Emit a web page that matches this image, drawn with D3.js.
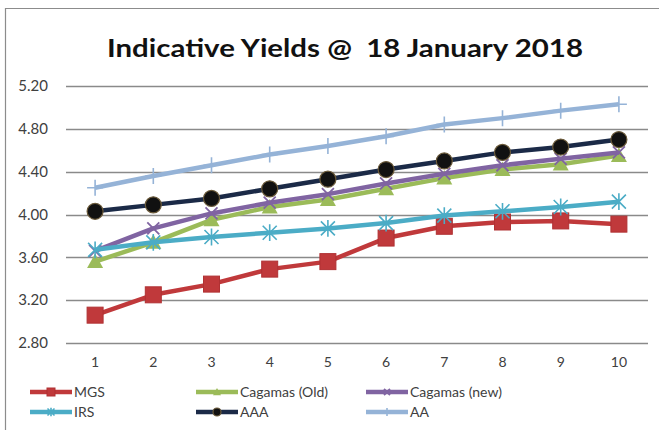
<!DOCTYPE html>
<html>
<head>
<meta charset="utf-8">
<script src="https://cdn.jsdelivr.net/npm/d3@7"></script>
<style>
  html, body { margin: 0; padding: 0; background: #fff; }
  svg { display: block; }
</style>
</head>
<body>
<svg id="chart" width="659" height="430"></svg>
<script>
// Tenors (years) along the x axis
const tenors = [1, 2, 3, 4, 5, 6, 7, 8, 9, 10];
const yTicks = [2.8, 3.2, 3.6, 4.0, 4.4, 4.8, 5.2];

// Yield curves (%)
const mgs         = [3.06, 3.25, 3.35, 3.49, 3.56, 3.78, 3.89, 3.93, 3.94, 3.91];
const cagamasOld  = [3.56, 3.74, 3.95, 4.07, 4.14, 4.24, 4.34, 4.42, 4.47, 4.55];
const cagamasNew  = [3.66, 3.87, 4.01, 4.11, 4.19, 4.29, 4.38, 4.46, 4.52, 4.58];
const irs         = [3.67, 3.74, 3.79, 3.83, 3.87, 3.92, 3.99, 4.03, 4.07, 4.12];
const aaa         = [4.03, 4.09, 4.15, 4.24, 4.33, 4.42, 4.50, 4.58, 4.63, 4.70];
const aa          = [4.25, 4.36, 4.46, 4.56, 4.64, 4.73, 4.84, 4.90, 4.97, 5.03];

const seriesNames = ["MGS", "Cagamas (Old)", "Cagamas (new)", "IRS", "AAA", "AA"];
const seriesValues = [mgs, cagamasOld, cagamasNew, irs, aaa, aa];
const seriesColors = ["#C0393B", "#9BBB59", "#8064A2", "#4BACC6", "#1B2A47", "#95B3D7"];
const seriesMarkers = ["square", "triangle", "x", "star", "circle", "plus"];

const svg = d3.select("#chart");
const W = 659, H = 430;
const font = "Lato, 'Open Sans', sans-serif";

// outer frame: top and left edges only
svg.append("path")
  .attr("d", `M5.5,${H} L5.5,8.5 L${W},8.5`)
  .attr("fill", "none").attr("stroke", "#8c8c8c").attr("stroke-width", 1.2);

const plot = { left: 66, right: 648, top: 86, bottom: 343 };

const x = d3.scaleBand().domain(tenors).range([plot.left, plot.right]);
const y = d3.scaleLinear().domain([2.8, 5.2]).range([plot.bottom, plot.top]);
const cx = d => x(d) + x.bandwidth() / 2;

// title
svg.append("text")
  .attr("x", 345).attr("y", 57)
  .attr("text-anchor", "middle")
  .attr("font-family", font)
  .attr("font-weight", "bold")
  .attr("font-size", 24)
  .attr("fill", "#111")
  .attr("textLength", 476)
  .attr("lengthAdjust", "spacingAndGlyphs")
  .attr("xml:space", "preserve")
  .text("Indicative Yields @  18 January 2018");

// horizontal gridlines
svg.append("g")
  .selectAll("line")
  .data(yTicks)
  .join("line")
  .attr("x1", plot.left).attr("x2", plot.right)
  .attr("y1", d => Math.round(y(d)) + 0.5)
  .attr("y2", d => Math.round(y(d)) + 0.5)
  .attr("stroke", "#8a8a8a").attr("stroke-width", 1.3);

// y axis labels
const yAxis = d3.axisLeft(y).tickValues(yTicks).tickFormat(d3.format(".2f")).tickSize(0).tickPadding(0);
const gy = svg.append("g").attr("transform", `translate(${plot.left - 18},0)`).call(yAxis);
gy.select(".domain").remove();
gy.selectAll("text")
  .attr("font-family", font).attr("font-size", 15).attr("fill", "#404040")
  .attr("text-anchor", "end");

// x axis labels
const xAxis = d3.axisBottom(x).tickSize(0).tickPadding(0);
const gx = svg.append("g").attr("transform", `translate(0,${plot.bottom + 14})`).call(xAxis);
gx.select(".domain").remove();
gx.selectAll("text")
  .attr("font-family", font).attr("font-size", 14).attr("fill", "#404040");

// marker drawing
function drawMarker(g, type, color, px, py, scale) {
  const s = scale || 1;
  if (type === "square") {
    g.append("rect")
      .attr("x", px - 8 * s).attr("y", py - 8 * s)
      .attr("width", 16 * s).attr("height", 16 * s)
      .attr("fill", color).attr("stroke", "#b03133").attr("stroke-width", 1);
  } else if (type === "triangle") {
    const r = 8 * s;
    g.append("path")
      .attr("d", `M${px},${py - r} L${px + r},${py + r * 0.8} L${px - r},${py + r * 0.8} Z`)
      .attr("fill", color);
  } else if (type === "x") {
    const r = 6 * s;
    g.append("path")
      .attr("d", `M${px - r},${py - r} L${px + r},${py + r} M${px - r},${py + r} L${px + r},${py - r}`)
      .attr("stroke", color).attr("stroke-width", 1.8).attr("fill", "none");
  } else if (type === "star") {
    const r = 7 * s;
    g.append("path")
      .attr("d", `M${px - r},${py - r} L${px + r},${py + r} M${px - r},${py + r} L${px + r},${py - r} M${px},${py - r * 1.2} L${px},${py + r * 1.2}`)
      .attr("stroke", color).attr("stroke-width", 1.6).attr("fill", "none");
  } else if (type === "circle") {
    g.append("circle")
      .attr("cx", px).attr("cy", py).attr("r", 8 * s)
      .attr("fill", "#111").attr("stroke", "#6b5a3a").attr("stroke-width", 1.2);
  } else if (type === "plus") {
    const r = 8 * s;
    g.append("path")
      .attr("d", `M${px - r},${py} L${px + r},${py} M${px},${py - r} L${px},${py + r}`)
      .attr("stroke", color).attr("stroke-width", 1.6).attr("fill", "none");
  }
}

const line = d3.line().x((d, i) => cx(tenors[i])).y(d => y(d));

// draw series in order
seriesValues.forEach((vals, k) => {
  const g = svg.append("g");
  g.append("path")
    .datum(vals)
    .attr("d", line)
    .attr("fill", "none")
    .attr("stroke", seriesColors[k])
    .attr("stroke-width", 4.5)
    .attr("stroke-linejoin", "round");
  vals.forEach((v, i) => drawMarker(g, seriesMarkers[k], seriesColors[k], cx(tenors[i]), y(v), 1));
});

// legend
const legendPos = [
  { x: 30, y: 392 }, { x: 196, y: 392 }, { x: 366, y: 392 },
  { x: 30, y: 412 }, { x: 196, y: 412 }, { x: 366, y: 412 }
];
seriesNames.forEach((name, k) => {
  const p = legendPos[k];
  const g = svg.append("g");
  g.append("line")
    .attr("x1", p.x).attr("x2", p.x + 42)
    .attr("y1", p.y).attr("y2", p.y)
    .attr("stroke", seriesColors[k]).attr("stroke-width", 4.5);
  drawMarker(g, seriesMarkers[k], seriesColors[k], p.x + 21, p.y, 0.5);
  g.append("text")
    .attr("x", p.x + 44).attr("y", p.y + 5)
    .attr("font-family", font).attr("font-size", 14).attr("fill", "#404040")
    .text(name);
});
</script>
</body>
</html>
